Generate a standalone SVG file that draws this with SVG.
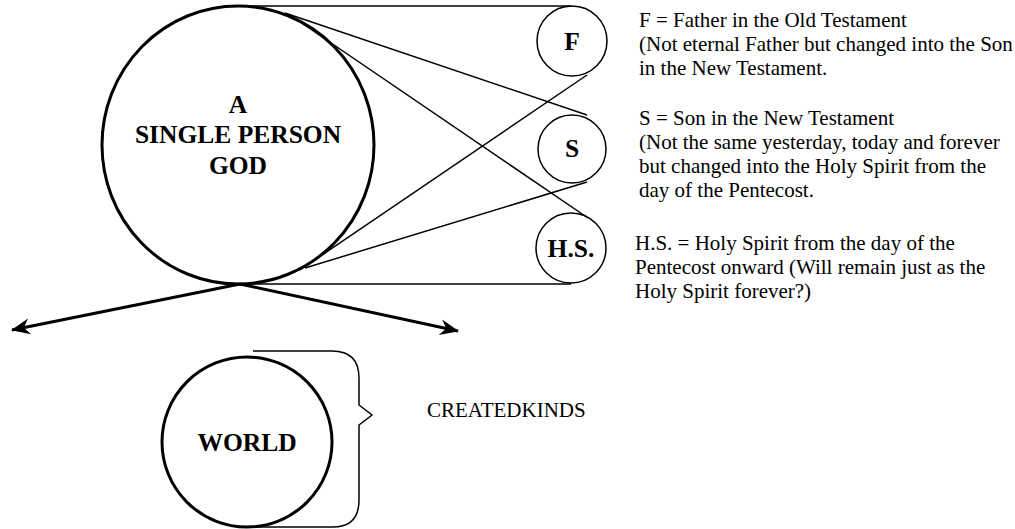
<svg xmlns="http://www.w3.org/2000/svg" width="1015" height="529" viewBox="0 0 1015 529">
<style>
.thick{fill:none;stroke:#000;stroke-width:3}
.thin{fill:none;stroke:#000;stroke-width:1.5}
.lbl{font-family:"Liberation Serif","Times New Roman",serif;font-weight:bold;font-size:25.5px;text-anchor:middle;fill:#000}
.note{font-family:"Liberation Serif","Times New Roman",serif;font-size:21px;fill:#000}
</style>
<defs>
<marker id="ah" viewBox="-19 -9 21 18" refX="0" refY="0" markerWidth="21" markerHeight="18" markerUnits="userSpaceOnUse" orient="auto">
<path d="M1,0 L-18,-8 L-12,0 L-18,8 Z" fill="#000"/>
</marker>
</defs>
<rect width="1015" height="529" fill="#fff"/>
<g id="connectors">
<line class="thin" x1="240" y1="6" x2="571" y2="6"/>
<line class="thin" x1="240" y1="284" x2="571" y2="284"/>
<line class="thin" x1="285" y1="13" x2="587" y2="115"/>
<line class="thin" x1="290" y1="15" x2="588" y2="218"/>
<line class="thin" x1="300" y1="270" x2="587" y2="75"/>
<line class="thin" x1="305" y1="268" x2="587" y2="182"/>
<line class="thick" x1="240" y1="284" x2="12" y2="330" marker-end="url(#ah)"/>
<line class="thick" x1="240" y1="284" x2="458" y2="331" marker-end="url(#ah)"/>
</g>
<g id="god">
<ellipse class="thick" cx="238" cy="145" rx="136" ry="139"/>
<text class="lbl" x="238" y="113">A</text>
<text class="lbl" x="238" y="143">SINGLE PERSON</text>
<text class="lbl" x="238" y="174">GOD</text>
</g>
<g id="f">
<circle class="thin" cx="572" cy="41" r="35"/>
<text class="lbl" x="572" y="50">F</text>
</g>
<g id="s">
<circle class="thin" cx="572" cy="149" r="34"/>
<text class="lbl" x="572" y="157">S</text>
</g>
<g id="hs">
<circle class="thin" cx="571" cy="248" r="35"/>
<text class="lbl" x="571" y="257">H.S.</text>
</g>
<g id="world">
<circle class="thick" cx="247" cy="442" r="85"/>
<text class="lbl" x="247" y="451">WORLD</text>
</g>
<g id="brace">
<path class="thin" d="M253,351 L332,351 Q359,351 359,378 L359,405 L372,415 L359,425 L359,500 Q359,527 333,527 L249,527"/>
</g>
<g id="notes">
<text class="note" x="639" y="27">F = Father in the Old Testament</text>
<text class="note" x="639" y="51">(Not eternal Father but changed into the Son</text>
<text class="note" x="639" y="75">in the New Testament.</text>
<text class="note" x="639" y="125">S = Son in the New Testament</text>
<text class="note" x="639" y="149">(Not the same yesterday, today and forever</text>
<text class="note" x="639" y="173">but changed into the Holy Spirit from the</text>
<text class="note" x="639" y="197">day of the Pentecost.</text>
<text class="note" x="635" y="250">H.S. = Holy Spirit from the day of the</text>
<text class="note" x="635" y="274">Pentecost onward (Will remain just as the</text>
<text class="note" x="635" y="298">Holy Spirit forever?)</text>
<text class="note" x="427" y="417">CREATEDKINDS</text>
</g>
</svg>
